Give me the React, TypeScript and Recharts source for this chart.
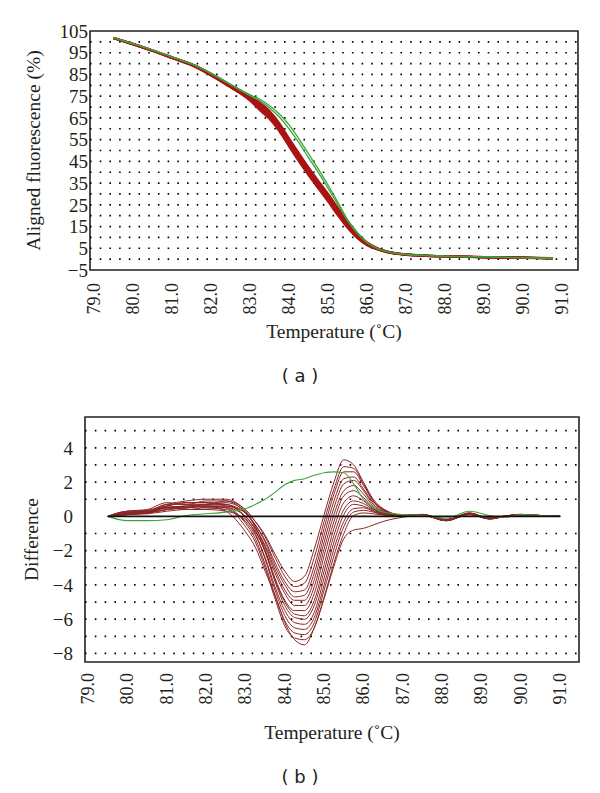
import { LineChart, Line, XAxis, YAxis, ReferenceArea, ReferenceLine } from 'recharts'

// temperature points (°C) for panel (a)
const tempA = [79.5, 80, 80.5, 81, 81.5, 82, 82.5, 83, 83.25, 83.5, 83.75, 84, 84.25, 84.5, 84.75, 85, 85.25, 85.5, 85.75, 86, 86.25, 86.5, 87, 87.5, 88, 89, 90, 90.75]

// aligned fluorescence (%) — red samples
const redA = [
  [101.9, 99.1, 96.2, 93.0, 89.8, 85.4, 80.2, 74.8, 72.1, 68.2, 62.6, 55.6, 48.8, 42.2, 36.0, 30.0, 23.6, 17.3, 12.0, 7.7, 5.2, 3.6, 2.2, 1.7, 1.4, 1.0, 0.7, 0.5],
  [101.8, 99.1, 96.1, 92.9, 89.7, 85.3, 80.0, 74.5, 71.5, 67.5, 61.9, 54.9, 48.1, 41.6, 35.4, 29.4, 23.1, 16.9, 11.7, 7.5, 5.1, 3.5, 2.2, 1.7, 1.4, 1.0, 0.7, 0.4],
  [101.8, 99.0, 96.1, 92.8, 89.6, 85.1, 79.8, 74.1, 70.9, 66.9, 61.2, 54.2, 47.4, 40.9, 34.8, 28.8, 22.5, 16.3, 11.2, 7.2, 5.0, 3.5, 2.1, 1.6, 1.3, 0.9, 0.6, 0.4],
  [101.8, 99.0, 96.0, 92.8, 89.5, 85.0, 79.6, 73.8, 70.3, 66.3, 60.6, 53.6, 46.8, 40.3, 34.2, 28.2, 21.9, 15.8, 10.8, 7.0, 4.8, 3.4, 2.1, 1.6, 1.3, 0.9, 0.6, 0.4],
  [101.7, 98.9, 95.9, 92.7, 89.4, 84.8, 79.4, 73.5, 69.7, 65.7, 60.0, 53.0, 46.2, 39.7, 33.6, 27.6, 21.3, 15.3, 10.4, 6.8, 4.7, 3.3, 2.0, 1.6, 1.3, 0.9, 0.6, 0.4],
  [101.8, 98.9, 95.9, 92.6, 89.3, 84.6, 79.2, 73.2, 69.1, 65.1, 59.4, 52.4, 45.6, 39.1, 33.0, 27.0, 20.7, 14.8, 10.0, 6.6, 4.6, 3.3, 2.0, 1.5, 1.2, 0.9, 0.6, 0.3],
  [101.7, 98.8, 95.8, 92.5, 89.2, 84.5, 79.0, 72.9, 68.5, 64.5, 58.8, 51.8, 45.0, 38.5, 32.4, 26.4, 20.1, 14.3, 9.6, 6.3, 4.5, 3.2, 1.9, 1.5, 1.2, 0.8, 0.5, 0.3],
]

// aligned fluorescence (%) — green samples
const greenA = [
  [102.0, 99.2, 96.3, 93.1, 89.9, 85.6, 80.5, 75.6, 73.6, 70.6, 66.8, 61.8, 55.4, 48.4, 41.4, 34.0, 26.2, 18.2, 12.1, 7.7, 5.1, 3.6, 2.2, 1.7, 1.4, 1.0, 0.7, 0.5],
  [101.9, 99.1, 96.2, 93.0, 89.8, 85.4, 80.3, 75.2, 72.9, 69.6, 65.4, 60.0, 53.6, 46.6, 39.8, 32.6, 25.1, 17.6, 11.8, 7.5, 5.0, 3.5, 2.1, 1.6, 1.3, 1.0, 0.6, 0.4],
]

// temperature points (°C) for panel (b)
const tempB = [79.5, 80, 80.5, 81, 81.5, 82, 82.5, 83, 83.25, 83.5, 83.75, 84, 84.25, 84.5, 84.75, 85, 85.25, 85.5, 85.75, 86, 86.25, 86.5, 87, 87.5, 88.1, 88.7, 89.2, 89.6, 90, 90.5, 91]

// difference plot — red samples
const redB = [
  [0, 0.2, 0.25, 0.5, 0.6, 0.7, 0.8, 0.3, -0.3, -1.1, -2.2, -3.2, -3.8, -3.5, -1.9, 0.1, 2.0, 3.3, 3.0, 2.0, 1.0, 0.45, 0.08, 0.1, -0.2, 0.15, -0.12, 0.0, 0.1, 0.05, 0],
  [0, 0.3, 0.3, 0.7, 0.7, 0.9, 0.9, 0.4, -0.3, -1.2, -2.4, -3.5, -4.1, -3.9, -2.4, -0.3, 1.6, 2.9, 2.8, 1.9, 0.9, 0.4, 0.06, 0.12, -0.22, 0.2, -0.1, 0.02, 0.12, 0.05, 0],
  [0, 0.1, 0.2, 0.4, 0.5, 0.6, 0.6, 0.2, -0.5, -1.4, -2.7, -3.8, -4.4, -4.3, -2.9, -0.7, 1.3, 2.6, 2.6, 1.8, 0.9, 0.4, 0.05, 0.08, -0.25, 0.18, -0.15, 0.0, 0.1, 0.04, 0],
  [0, 0.25, 0.2, 0.6, 0.8, 0.8, 0.7, 0.2, -0.5, -1.5, -2.9, -4.0, -4.7, -4.6, -3.3, -1.1, 0.9, 2.2, 2.3, 1.6, 0.8, 0.35, 0.05, 0.1, -0.18, 0.16, -0.1, 0.02, 0.1, 0.05, 0],
  [0, 0.15, 0.3, 0.5, 0.4, 0.5, 0.5, 0.0, -0.7, -1.7, -3.1, -4.3, -4.9, -4.9, -3.7, -1.5, 0.5, 1.9, 2.1, 1.5, 0.7, 0.3, 0.04, 0.08, -0.24, 0.14, -0.14, 0.0, 0.08, 0.04, 0],
  [0, 0.3, 0.4, 0.8, 0.7, 0.7, 0.9, 0.2, -0.6, -1.8, -3.3, -4.5, -5.2, -5.2, -4.1, -1.9, 0.1, 1.5, 1.8, 1.3, 0.6, 0.25, 0.05, 0.1, -0.2, 0.2, -0.12, 0.02, 0.12, 0.05, 0],
  [0, 0.1, 0.15, 0.3, 0.4, 0.4, 0.3, -0.2, -0.9, -2.0, -3.6, -4.9, -5.5, -5.5, -4.5, -2.3, -0.3, 1.2, 1.5, 1.1, 0.5, 0.2, 0.04, 0.08, -0.26, 0.12, -0.16, 0.0, 0.08, 0.03, 0],
  [0, 0.2, 0.3, 0.6, 0.5, 0.6, 0.6, 0.0, -0.8, -2.1, -3.7, -5.0, -5.7, -5.8, -4.9, -2.8, -0.7, 0.8, 1.2, 0.9, 0.45, 0.2, 0.05, 0.1, -0.2, 0.16, -0.1, 0.02, 0.1, 0.05, 0],
  [0, 0.3, 0.35, 0.7, 0.9, 1.0, 1.0, 0.3, -0.6, -2.0, -3.8, -5.2, -5.9, -6.0, -5.2, -3.2, -1.1, 0.4, 0.9, 0.75, 0.4, 0.15, 0.04, 0.1, -0.22, 0.18, -0.12, 0.0, 0.1, 0.05, 0],
  [0, 0.1, 0.2, 0.4, 0.6, 0.5, 0.4, -0.3, -1.1, -2.4, -4.1, -5.5, -6.2, -6.3, -5.6, -3.6, -1.5, 0.1, 0.7, 0.6, 0.35, 0.15, 0.05, 0.08, -0.25, 0.14, -0.14, 0.0, 0.08, 0.04, 0],
  [0, 0.2, 0.25, 0.5, 0.5, 0.7, 0.7, -0.1, -1.0, -2.5, -4.3, -5.8, -6.5, -6.6, -5.9, -4.0, -1.9, -0.3, 0.45, 0.5, 0.3, 0.1, 0.04, 0.1, -0.2, 0.15, -0.1, 0.02, 0.1, 0.05, 0],
  [0, 0.25, 0.3, 0.6, 0.8, 0.8, 0.6, -0.4, -1.3, -2.8, -4.6, -6.1, -6.8, -6.9, -6.2, -4.3, -2.3, -0.6, 0.25, 0.35, 0.25, 0.1, 0.03, 0.08, -0.24, 0.12, -0.15, 0.0, 0.08, 0.04, 0],
  [0, 0.15, 0.2, 0.4, 0.5, 0.6, 0.5, -0.6, -1.5, -3.0, -4.8, -6.4, -7.1, -7.2, -6.5, -4.7, -2.7, -1.0, 0.05, 0.2, 0.15, 0.08, 0.03, 0.08, -0.22, 0.14, -0.12, 0.0, 0.08, 0.04, 0],
  [0, 0.2, 0.3, 0.5, 0.6, 0.6, 0.3, -0.9, -1.8, -3.2, -4.6, -6.2, -7.2, -7.5, -6.5, -4.8, -2.9, -1.3, -0.8, -0.7, -0.5, -0.3, -0.05, 0.05, -0.25, 0.1, -0.12, 0.0, 0.06, 0.03, 0],
]

// difference plot — green sample
const greenB = [0, -0.25, -0.25, -0.2, 0.05, 0.15, 0.25, 0.45, 0.7, 1.0, 1.4, 1.85, 2.1, 2.2, 2.4, 2.55, 2.6, 2.55, 1.9, 1.0, 0.5, 0.25, 0.1, 0.05, -0.1, 0.3, 0.05, -0.05, 0.1, 0.05, 0]

const xTicks = [79, 80, 81, 82, 83, 84, 85, 86, 87, 88, 89, 90, 91]
const yTicksA = [105, 95, 85, 75, 65, 55, 45, 35, 25, 15, 5, -5]
const gridRowsA = [0, 5, 10, 15, 20, 25, 30, 35, 40, 45, 50, 55, 60, 65, 70, 75, 80, 85, 90, 95, 100]
const yTicksB = [4, 2, 0, -2, -4, -6, -8]
const gridRowsB = [-8, -7, -6, -5, -4, -3, -2, -1, 1, 2, 3, 4, 5]

const FONT = '"Liberation Serif", "DejaVu Serif", serif'
const INK = '#231f20'
const RED_A = '#a91414'
const RED_B = '#8a2525'
const GREEN = '#3da33d'

const rowsA = tempA.map((t, i) => {
  const row: any = { t }
  redA.forEach((s, k) => { row['r' + k] = s[i] })
  greenA.forEach((s, k) => { row['g' + k] = s[i] })
  return row
})

const rowsB = tempB.map((t, i) => {
  const row: any = { t, g0: greenB[i] }
  redB.forEach((s, k) => { row['r' + k] = s[i] })
  return row
})

const minus = (v: number) => String(v).replace('-', '−')

// rotated temperature labels, reading bottom-to-top
const makeXTick = (shift: number) => (props: any) => {
  const { x, y, payload } = props
  const ax = x + 6
  const ay = y + shift
  return (
    <text x={ax} y={ay} transform={`rotate(-90 ${ax} ${ay})`} textAnchor="end"
      fontFamily={FONT} fontSize={18} fill={INK}>
      {Number(payload.value).toFixed(1)}
    </text>
  )
}

const yTitle = (text: string, dx: number) => (props: any) => {
  const vb = props.viewBox || { x: 0, y: 0, height: 0 }
  const cx = vb.x + dx
  const cy = vb.y + vb.height / 2
  return (
    <text x={cx} y={cy} transform={`rotate(-90 ${cx} ${cy})`} textAnchor="middle"
      dominantBaseline="central" fontFamily={FONT} fontSize={19.5} fill={INK}>
      {text}
    </text>
  )
}

const caption = (text: string, top: number) => (
  <div style={{
    position: 'absolute', left: 0, top, width: 600, textAlign: 'center',
    fontFamily: '"DejaVu Sans", sans-serif', fontSize: 18, color: INK, lineHeight: '20px',
  }}>{text}</div>
)

export default function App() {
  return (
    <div style={{ position: 'absolute', left: 0, top: 0, width: 600, height: 793, background: '#fff' }}>
      {/* (a) melting curves */}
      <div style={{ position: 'absolute', left: 0, top: 0 }}>
        <LineChart width={600} height={345} data={rowsA} margin={{ top: 31, right: 22, bottom: 0, left: 0 }}>
          <XAxis dataKey="t" type="number" domain={[78.9, 91.4]} ticks={xTicks} interval={0} allowDataOverflow
            height={75} axisLine={false} tickLine={false} tick={makeXTick(5)}
            label={{ value: 'Temperature (˚C)', position: 'insideBottom', offset: 7, fontFamily: FONT, fontSize: 19.5, fill: INK }} />
          <YAxis type="number" domain={[-5, 105]} ticks={yTicksA} interval={0} allowDataOverflow width={90}
            axisLine={false} tickLine={false} tickSize={0} tickMargin={2} tickFormatter={minus}
            tick={{ fontFamily: FONT, fontSize: 19, fill: INK }}
            label={{ content: yTitle('Aligned fluorescence (%)', 33) }} />
          {gridRowsA.map((v) => (
            <ReferenceLine key={'ga-row' + v} y={v} stroke="#000" strokeWidth={1.7} strokeDasharray="1.6 8.1" />
          ))}
          {redA.map((_, k) => (
            <Line key={'ra' + k} dataKey={'r' + k} type="monotone" stroke={RED_A} strokeWidth={2}
              dot={false} isAnimationActive={false} />
          ))}
          {greenA.map((_, k) => (
            <Line key={'ga' + k} dataKey={'g' + k} type="monotone" stroke={GREEN} strokeWidth={1.3}
              dot={false} isAnimationActive={false} />
          ))}
          <ReferenceArea x1={78.9} x2={91.4} y1={-5} y2={105} fill="none" fillOpacity={0}
            stroke="#222" strokeWidth={1.6} />
        </LineChart>
      </div>
      {caption('( a )', 366)}

      {/* (b) difference plot */}
      <div style={{ position: 'absolute', left: 0, top: 400 }}>
        <LineChart width={600} height={345} data={rowsB} margin={{ top: 17, right: 21, bottom: 0, left: 0 }}>
          <XAxis dataKey="t" type="number" domain={[78.92, 91.48]} ticks={xTicks} interval={0} allowDataOverflow
            height={83} axisLine={false} tickLine={false} tick={makeXTick(3)}
            label={{ value: 'Temperature (˚C)', position: 'insideBottom', offset: 6, fontFamily: FONT, fontSize: 19.5, fill: INK }} />
          <YAxis type="number" domain={[-8.5, 5.8]} ticks={yTicksB} interval={0} allowDataOverflow width={85}
            axisLine={false} tickLine={false} tickSize={0} tickMargin={12} tickFormatter={minus}
            tick={{ fontFamily: FONT, fontSize: 19, fill: INK }}
            label={{ content: yTitle('Difference', 31) }} />
          {gridRowsB.map((v) => (
            <ReferenceLine key={'gb-row' + v} y={v} stroke="#000" strokeWidth={1.7} strokeDasharray="1.6 8.2" />
          ))}
          {redB.map((_, k) => (
            <Line key={'rb' + k} dataKey={'r' + k} type="monotone" stroke={RED_B} strokeWidth={1}
              dot={false} isAnimationActive={false} />
          ))}
          <Line dataKey="g0" type="monotone" stroke={GREEN} strokeWidth={1.1} dot={false} isAnimationActive={false} />
          <ReferenceLine segment={[{ x: 79.5, y: 0 }, { x: 91, y: 0 }]} stroke="#111" strokeWidth={1.6} />
          <ReferenceArea x1={78.92} x2={91.48} y1={-8.5} y2={5.8} fill="none" fillOpacity={0}
            stroke="#222" strokeWidth={1.6} />
        </LineChart>
      </div>
      {caption('( b )', 767)}
    </div>
  )
}
